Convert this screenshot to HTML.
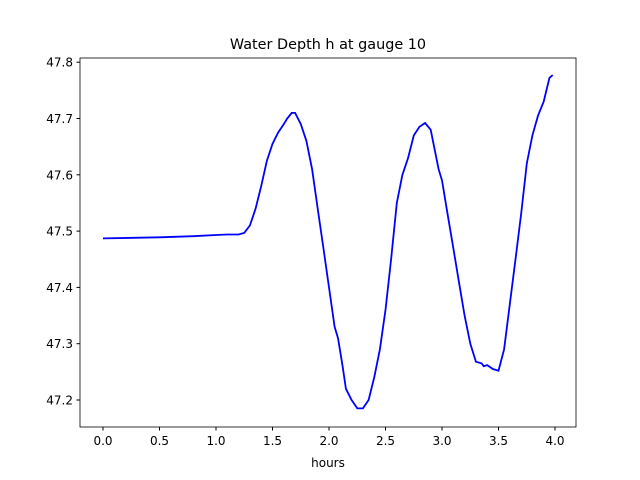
<!DOCTYPE html>
<html><head><meta charset="utf-8"><style>
body{margin:0;background:#fff}
svg{display:block;font-family:"DejaVu Sans","Liberation Sans",sans-serif}
</style></head><body>
<svg id="chart" width="640" height="480">
<rect width="640" height="480" fill="#fff"/>
<text x="328" y="49" font-size="14.4" text-anchor="middle">Water Depth h at gauge 10</text>
<g id="ticks"></g>
<path id="line" fill="none" stroke="#0000ff" stroke-width="1.8"/>
<rect x="80" y="58" width="496" height="369" fill="none" stroke="#000" stroke-width="0.8"/>
<text x="328" y="467" font-size="12" text-anchor="middle">hours</text>
</svg>
<script>
const hours=[0,0.5,0.8,1.0,1.1,1.2,1.25,1.3,1.35,1.4,1.45,1.5,1.55,1.6,1.63,1.67,1.7,1.75,1.8,1.85,1.9,1.95,2.0,2.05,2.08,2.12,2.15,2.2,2.25,2.3,2.35,2.4,2.45,2.5,2.55,2.6,2.65,2.7,2.75,2.8,2.85,2.9,2.93,2.97,3.0,3.05,3.1,3.15,3.2,3.25,3.3,3.35,3.37,3.4,3.45,3.5,3.55,3.6,3.65,3.7,3.75,3.8,3.85,3.9,3.95,3.98];
const depth=[47.487,47.489,47.491,47.493,47.494,47.494,47.497,47.51,47.54,47.58,47.625,47.655,47.675,47.69,47.70,47.71,47.71,47.69,47.66,47.61,47.54,47.47,47.40,47.33,47.31,47.26,47.22,47.20,47.185,47.185,47.2,47.24,47.29,47.36,47.45,47.55,47.60,47.63,47.67,47.685,47.692,47.68,47.65,47.61,47.59,47.53,47.47,47.41,47.35,47.30,47.268,47.265,47.26,47.262,47.255,47.252,47.29,47.37,47.45,47.53,47.62,47.67,47.705,47.73,47.772,47.777];
const xTicks=[0,0.5,1.0,1.5,2.0,2.5,3.0,3.5,4.0];
const yTicks=[47.2,47.3,47.4,47.5,47.6,47.7,47.8];
const X=v=>103+v*113;
const Y=v=>400-(v-47.2)*563;
const g=document.getElementById('ticks');
const NS='http://www.w3.org/2000/svg';
xTicks.forEach(t=>{
 const l=document.createElementNS(NS,'line');
 l.setAttribute('x1',X(t));l.setAttribute('x2',X(t));l.setAttribute('y1',427);l.setAttribute('y2',430.5);l.setAttribute('stroke','#000');
 
 
 g.appendChild(l);
 const tx=document.createElementNS(NS,'text');
 tx.setAttribute('x',X(t));tx.setAttribute('y',445);tx.setAttribute('font-size','12');tx.setAttribute('text-anchor','middle');
 tx.textContent=t.toFixed(1);
 
 
 g.appendChild(tx);
});
yTicks.forEach(t=>{
 const l=document.createElementNS(NS,'line');
 l.setAttribute('x1',76.5);l.setAttribute('x2',80);l.setAttribute('y1',Y(t));l.setAttribute('y2',Y(t));l.setAttribute('stroke','#000');
 
 
 g.appendChild(l);
 const tx=document.createElementNS(NS,'text');
 tx.setAttribute('x',73);tx.setAttribute('y',Y(t)+4.5);tx.setAttribute('font-size','12');tx.setAttribute('text-anchor','end');
 tx.textContent=t.toFixed(1);
 
 
 g.appendChild(tx);
});
document.getElementById('line').setAttribute('d',hours.map((h,i)=>(i?'L':'M')+X(h).toFixed(1)+' '+Y(depth[i]).toFixed(1)).join(' '));
</script>
</body></html>
